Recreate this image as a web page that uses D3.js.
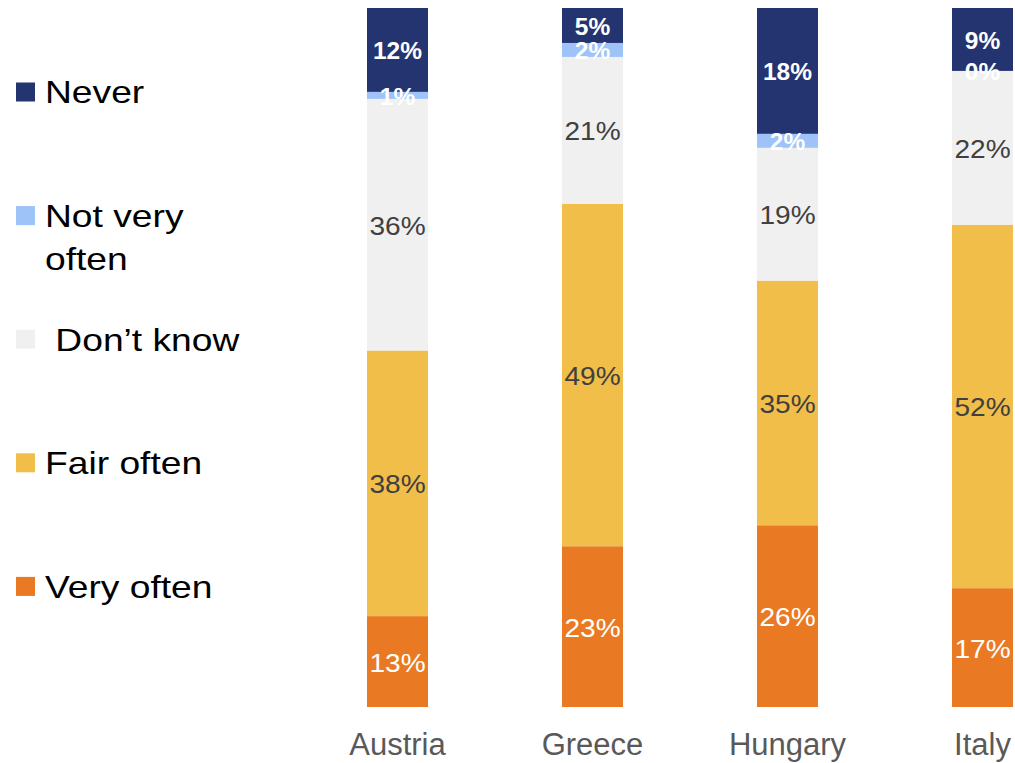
<!DOCTYPE html>
<html>
<head>
<meta charset="utf-8">
<script src="https://cdn.jsdelivr.net/npm/d3@7"></script>
<style>
html,body{margin:0;padding:0;background:#fff;}
svg{display:block;font-family:"Liberation Sans",Arial,sans-serif;}
</style>
</head>
<body>
<svg id="chart" width="1015" height="763"></svg>
<script>
// ---- data ----
const countries = ["Austria", "Greece", "Hungary", "Italy"];
const seriesNames = ["Very often", "Fair often", "Don’t know", "Not very often", "Never"];
const veryOften   = [13, 23, 26, 17];
const fairOften   = [38, 49, 35, 52];
const dontKnow    = [36, 21, 19, 22];
const notVeryOften = [1, 2, 2, 0];
const never       = [12, 5, 18, 9];
const legendLabels = [["Never"], ["Not very", "often"], [" Don’t know"], ["Fair often"], ["Very often"]];
const legendColorKeys = ["Never", "Not very often", "Don’t know", "Fair often", "Very often"];

const colors = {
  "Very often": "#E97A23",
  "Fair often": "#F1BE49",
  "Don’t know": "#F0F0F0",
  "Not very often": "#9DC3F8",
  "Never": "#243470"
};
const labelStyle = {
  "Very often": {fill: "#ffffff", weight: "normal", size: 26, sx: 1.08},
  "Fair often": {fill: "#404040", weight: "normal", size: 26, sx: 1.08},
  "Don’t know": {fill: "#404040", weight: "normal", size: 26, sx: 1.08},
  "Not very often": {fill: "#ffffff", weight: "bold", size: 24, sx: 1.02},
  "Never": {fill: "#ffffff", weight: "bold", size: 24, sx: 1.02}
};

const seriesValues = [veryOften, fairOften, dontKnow, notVeryOften, never];
const table = countries.map((c, i) => {
  const row = {country: c};
  seriesNames.forEach((s, k) => row[s] = seriesValues[k][i]);
  return row;
});

const svg = d3.select("#chart");

const x = d3.scaleBand().domain(countries).range([300, 1080])
  .paddingInner(134 / 195).paddingOuter(67 / 195);
const y = d3.scaleLinear().domain([0, 100]).range([707, 8]);

const stack = d3.stack().keys(seriesNames);
const stacked = stack(table);

const layers = svg.append("g").selectAll("g").data(stacked).join("g")
  .attr("fill", d => colors[d.key]);
layers.selectAll("rect").data(d => d).join("rect")
  .attr("x", d => x(d.data.country))
  .attr("width", x.bandwidth())
  .attr("y", d => y(d[1]))
  .attr("height", d => y(d[0]) - y(d[1]));

// labels
const labelG = svg.append("g");
stacked.forEach(layer => {
  const st = labelStyle[layer.key];
  labelG.selectAll(null).data(layer).join("text")
    .attr("transform", d => `translate(${x(d.data.country) + x.bandwidth() / 2},${(y(d[0]) + y(d[1])) / 2 + 0.6}) scale(${st.sx},1)`)
    .attr("dy", "0.36em")
    .attr("text-anchor", "middle")
    .attr("font-size", st.size)
    .attr("font-weight", st.weight)
    .attr("fill", st.fill)
    .text(d => (d[1] - d[0]) + "%");
});

// x axis labels
const xAxis = d3.axisBottom(x).tickSize(0).tickPadding(0);
const ax = svg.append("g").attr("transform", "translate(0,707)").call(xAxis);
ax.select(".domain").remove();
ax.selectAll("text")
  .attr("y", 48).attr("dy", null)
  .attr("font-size", 31)
  .attr("fill", "#595959")
  .attr("font-family", "Liberation Sans, Arial, sans-serif");

// legend
const legend = svg.append("g");
legendLabels.forEach((lines, i) => {
  const cy = 92 + i * 123.6;
  legend.append("rect")
    .attr("x", 16).attr("y", cy - 9.5)
    .attr("width", 19).attr("height", 19)
    .attr("fill", colors[legendColorKeys[i]]);
  const t = legend.append("text")
    .attr("transform", "translate(45,0) scale(1.2,1)")
    .attr("font-size", 31).attr("fill", "#000")
    .attr("xml:space", "preserve")
    .style("white-space", "pre");
  lines.forEach((ln, j) => {
    t.append("tspan").attr("x", 0).attr("y", cy + 11.5 + j * 43).text(ln);
  });
});
</script>
</body>
</html>
